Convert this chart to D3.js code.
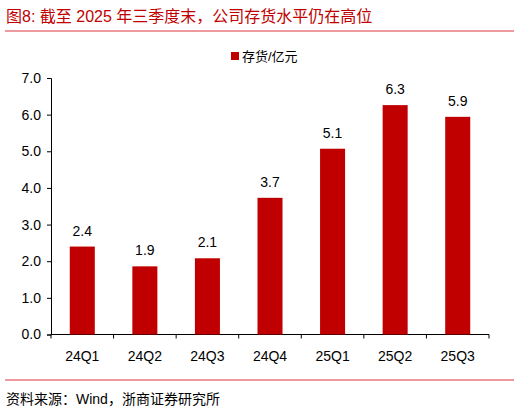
<!DOCTYPE html>
<html><head><meta charset="utf-8">
<script src="https://cdn.jsdelivr.net/npm/d3@7"></script>
<style>body{margin:0;background:#fff}</style>
</head><body>
<svg id="chart" width="520" height="411"></svg>
<script>
const categories = ["24Q1", "24Q2", "24Q3", "24Q4", "25Q1", "25Q2", "25Q3"];
const inventory = [2.4, 1.86, 2.08, 3.73, 5.07, 6.26, 5.94];
const labels = ["2.4", "1.9", "2.1", "3.7", "5.1", "6.3", "5.9"];
const yTicks = [0, 1, 2, 3, 4, 5, 6, 7];

const red = "#c00000";
const font = "Arial, 'Liberation Sans', 'Noto Sans CJK SC', sans-serif";
const svg = d3.select("#chart").style("font-family", font);

// title + rules
svg.append("text").attr("x", 6).attr("y", 22).attr("fill", red)
    .attr("font-size", 16).text("图8:  截至 2025 年三季度末，公司存货水平仍在高位");
svg.append("line").attr("x1", 5).attr("x2", 514).attr("y1", 31).attr("y2", 31)
    .attr("stroke", "#d9363e").attr("stroke-width", 1);
svg.append("line").attr("x1", 5).attr("x2", 514).attr("y1", 380).attr("y2", 380)
    .attr("stroke", "#d9363e").attr("stroke-width", 1);
svg.append("text").attr("x", 6).attr("y", 404).attr("font-size", 14).attr("fill", "#000")
    .text("资料来源：Wind，浙商证券研究所");

// legend
svg.append("rect").attr("x", 231).attr("y", 52).attr("width", 8).attr("height", 8).attr("fill", red);
svg.append("text").attr("x", 242).attr("y", 61).attr("font-size", 13).text("存货/亿元");

const x = d3.scaleBand().domain(categories).range([51, 489]).paddingInner(0.6).paddingOuter(0.3);
const y = d3.scaleLinear().domain([0, 7]).range([334.5, 78]);

const yAxis = svg.append("g").attr("transform", "translate(51,0)")
    .call(d3.axisLeft(y).tickValues(yTicks).tickSize(4).tickPadding(6));
yAxis.selectAll("text").attr("font-size", 14).attr("fill", "#000").style("font-family", font);
yAxis.selectAll("line,path").attr("stroke", "#000");

const xg = svg.append("g").attr("transform", "translate(0,334.5)");
xg.append("line").attr("x1", 51).attr("x2", 489).attr("stroke", "#000");
const step = (489 - 51) / categories.length;
xg.selectAll(".t").data(d3.range(categories.length + 1)).enter().append("line")
    .attr("x1", i => 51 + i * step).attr("x2", i => 51 + i * step).attr("y1", 0).attr("y2", 4)
    .attr("stroke", "#000");
xg.selectAll(".l").data(categories).enter().append("text")
    .attr("x", d => x(d) + x.bandwidth() / 2).attr("y", 26).attr("text-anchor", "middle")
    .attr("font-size", 14).text(d => d);

svg.selectAll(".bar").data(inventory).enter().append("rect")
    .attr("x", (d, i) => x(categories[i])).attr("width", x.bandwidth())
    .attr("y", d => y(d)).attr("height", d => y(0) - y(d)).attr("fill", red);

svg.selectAll(".val").data(inventory).enter().append("text")
    .attr("x", (d, i) => x(categories[i]) + x.bandwidth() / 2).attr("y", d => y(d) - 11)
    .attr("text-anchor", "middle").attr("font-size", 14).text((d, i) => labels[i]);
</script>
</body></html>
